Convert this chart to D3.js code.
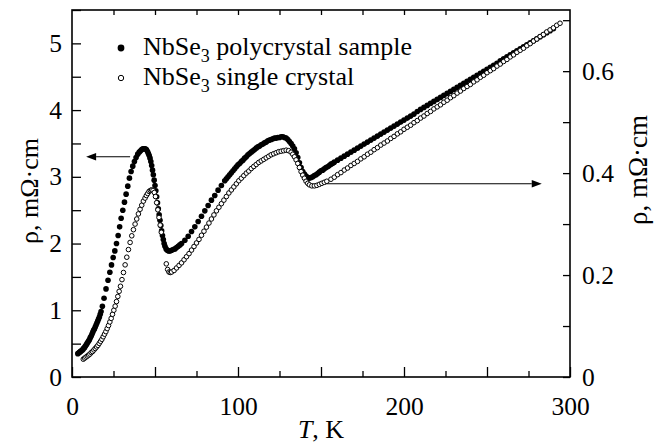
<!DOCTYPE html>
<html>
<head>
<meta charset="utf-8">
<script src="https://cdn.jsdelivr.net/npm/d3@7/dist/d3.min.js"></script>
<style>
  html, body { margin: 0; padding: 0; background: #fff; }
  svg { display: block; }
  text { font-family: "Liberation Serif", "Times New Roman", serif; fill: #000; }
</style>
</head>
<body>
<svg id="chart" width="661" height="446"></svg>
<script>
// NbSe3 resistivity vs temperature
// polycrystal sample (left axis, mΩ·cm)
const polyT = [
  3.5,4,4.5,5,5.5,6,6.5,7,7.5,8,8.5,9,9.5,10,10.5,11,11.5,12,12.5,13,13.5,14,14.5,15,15.5,16,16.5,17,17.5,
  18.3,19.3,20.5,21.7,22.8,23.8,24.8,25.8,26.8,27.8,28.7,29.6,30.6,31.6,32.6,33.6,34.6,35.6,36.6,37.6,38.6,39.6,40.5,41.3,
  42,42.7,43.4,44.1,44.8,45.5,46,46.5,47,47.5,48,48.5,49,49.5,50,50.5,51,51.5,52,52.5,53,53.5,54,54.5,55,55.5,56,56.7,57.4,58.2,
  59,60,61,62,63,64,65,66,68,70,72,74,76,78,80,82,84,86,88,90,
  92,93,94,95,96,97,98,99,100,101,102,103,104,105,106,107,108,109,110,111,112,113,114,115,116,117,118,119,120,
  121,122,123,124,125,126,127,128,129,130,131,132,133,134,135,136,137,138,139,140,141,142,143,144,145,146,147,148,149,150,
  151,152,153,154,155,156,157,158,
  160,162,164,166,168,170,172,174,176,178,180,182,184,186,188,190,192,194,196,198,200,202,204,206,208,210,
  212,214,216,218,220,222,224,226,228,230,232,234,236,238,240,242,244,246,248,250,252,254,256,258,260,
  262,264,266,268,270,272,274,276,278,280,282,284,286,288,290
];
const polyRho = [
  0.35,0.36,0.37,0.38,0.39,0.40,0.41,0.43,0.44,0.46,0.48,0.50,0.52,0.54,0.56,0.59,0.61,0.64,0.67,0.70,0.72,0.75,0.78,0.81,0.84,0.87,0.90,0.94,0.98,
  1.06,1.18,1.32,1.45,1.57,1.68,1.79,1.89,2.00,2.12,2.25,2.38,2.50,2.62,2.74,2.86,2.98,3.08,3.16,3.23,3.29,3.34,3.37,3.39,
  3.41,3.42,3.42,3.42,3.41,3.38,3.35,3.32,3.28,3.23,3.17,3.10,3.03,2.95,2.87,2.79,2.70,2.61,2.52,2.43,2.35,2.27,2.19,2.12,2.06,2.00,1.96,1.92,1.90,1.89,
  1.89,1.90,1.91,1.92,1.94,1.96,1.98,2.00,2.05,2.11,2.18,2.25,2.33,2.41,2.49,2.57,2.65,2.72,2.80,2.87,
  2.94,2.97,3.00,3.03,3.06,3.09,3.12,3.15,3.18,3.20,3.23,3.25,3.28,3.30,3.33,3.35,3.37,3.39,3.41,3.43,3.45,3.46,3.48,3.49,3.51,3.52,3.54,3.55,3.56,
  3.57,3.58,3.58,3.59,3.59,3.60,3.60,3.59,3.58,3.56,3.53,3.50,3.46,3.42,3.36,3.29,3.21,3.14,3.08,3.04,3.01,2.99,2.98,2.99,3.00,3.02,3.03,3.05,3.07,3.09,
  3.10,3.12,3.14,3.15,3.17,3.19,3.20,3.22,
  3.25,3.28,3.31,3.34,3.37,3.40,3.43,3.46,3.49,3.52,3.55,3.58,3.61,3.64,3.67,3.70,3.73,3.76,3.79,3.82,3.85,3.88,3.91,3.94,3.98,4.01,
  4.04,4.07,4.10,4.13,4.16,4.19,4.22,4.25,4.28,4.31,4.34,4.37,4.40,4.43,4.46,4.49,4.52,4.55,4.58,4.61,4.64,4.67,4.70,4.74,4.77,
  4.80,4.83,4.86,4.89,4.92,4.95,4.98,5.01,5.04,5.07,5.10,5.13,5.16,5.19,5.22
];

// single crystal (right axis, mΩ·cm)
const crystT = [
  6.8,7.6,8.4,9.2,10,10.8,11.6,12.4,13.2,14,14.8,15.6,16.4,17.2,18,18.8,19.6,20.4,21.2,22,22.8,23.6,24.4,25.2,26,26.8,27.6,28.4,
  29.2,30.1,31,32,33,34,35,36,37,38,39,40,41,42,43,44,44.8,45.6,46.4,47.2,48,48.8,
  49.6,50.3,51,51.7,52.4,53.1,53.8,
  56.8,57.6,58.4,59.2,60,61.5,63,64.5,66,67.5,69,70.5,72,73.5,75,76.5,78,79.5,81,82.5,84,85.5,87,88.5,90,
  91.5,93,94.5,96,97.5,99,100.5,102,103.5,105,106.5,108,109.5,111,112.5,114,115.5,117,118.5,120,121.5,123,124.5,126,127.5,129,
  130.5,132,133,134,135,136,137,138,139,140,141,142,143,144.5,146,147.5,149,150.5,152,153.5,
  156,158,160,162,164,166,168,170,172,174,176,178,180,182,184,186,188,190,192,194,196,198,200,202,204,206,208,210,
  212,214,216,218,220,222,224,226,228,230,232,234,236,238,240,242,244,246,248,250,252,254,256,258,260,
  262,264,266,268,270,272,274,276,278,280,282,284,286,288,290,292,294
];
const crystRho = [
  0.035,0.037,0.039,0.041,0.043,0.045,0.048,0.050,0.053,0.056,0.059,0.062,0.066,0.070,0.074,0.079,0.084,0.089,0.095,0.101,0.108,0.115,0.123,0.131,0.139,0.148,0.158,0.168,
  0.178,0.191,0.205,0.220,0.235,0.250,0.264,0.277,0.289,0.300,0.310,0.320,0.329,0.337,0.345,0.351,0.356,0.360,0.364,0.366,0.367,0.366,
  0.362,0.354,0.342,0.328,0.313,0.298,0.284,
  0.222,0.211,0.206,0.205,0.206,0.209,0.214,0.219,0.224,0.230,0.236,0.242,0.249,0.256,0.263,0.270,0.278,0.286,0.294,0.302,0.310,0.318,0.326,0.333,0.340,
  0.347,0.354,0.361,0.367,0.373,0.379,0.385,0.390,0.395,0.400,0.404,0.409,0.413,0.417,0.421,0.424,0.427,0.430,0.433,0.436,0.438,0.440,0.442,0.443,0.444,0.445,
  0.444,0.441,0.437,0.432,0.426,0.419,0.411,0.403,0.396,0.390,0.384,0.380,0.377,0.375,0.375,0.376,0.378,0.380,0.382,0.384,
  0.388,0.392,0.397,0.401,0.406,0.410,0.415,0.419,0.423,0.428,0.432,0.437,0.441,0.446,0.450,0.455,0.459,0.463,0.468,0.472,0.477,0.481,0.486,0.490,0.494,0.499,0.503,0.508,
  0.512,0.517,0.521,0.526,0.530,0.534,0.539,0.543,0.548,0.552,0.557,0.561,0.566,0.570,0.574,0.579,0.583,0.588,0.592,0.597,0.601,0.605,0.610,0.614,0.619,
  0.623,0.628,0.632,0.637,0.641,0.645,0.650,0.654,0.659,0.663,0.668,0.672,0.677,0.681,0.685,0.690,0.694
];

const xTicks = [0, 100, 200, 300];
const leftTicks = [0, 1, 2, 3, 4, 5];
const rightTicks = [0, 0.2, 0.4, 0.6];
const legendLabels = [" polycrystal sample", " single crystal"];

const svg = d3.select("#chart");
const m = { left: 72, right: 570, top: 10, bottom: 377 };
const tickFont = "25.5px";

const x = d3.scaleLinear().domain([0, 300]).range([m.left, m.right]);
const yL = d3.scaleLinear().domain([0, 5.5]).range([m.bottom, m.top]);
const yR = d3.scaleLinear().domain([0, 0.72]).range([m.bottom, m.top]);

const fmtX = d => xTicks.includes(d) ? String(d) : "";
const fmtL = d => leftTicks.includes(d) ? String(d) : "";
const fmtR = d => rightTicks.some(v => Math.abs(v - d) < 1e-9) ? (d === 0 ? "0" : d3.format(".1f")(d)) : "";

function styleAxis(g) {
  g.select(".domain").remove();
  g.selectAll(".tick line").attr("stroke", "#000").attr("stroke-width", 1.3);
  g.selectAll(".tick text").style("font-size", tickFont).attr("fill", "#000");
}

// bottom: long ticks each 50 K, short ticks between
svg.append("g").attr("transform", `translate(0,${m.bottom})`)
  .call(d3.axisBottom(x).tickValues(d3.range(0, 301, 50)).tickSize(-10).tickPadding(20).tickFormat(fmtX))
  .call(styleAxis);
svg.append("g").attr("transform", `translate(0,${m.bottom})`)
  .call(d3.axisBottom(x).tickValues(d3.range(25, 300, 50)).tickSize(-6).tickFormat(""))
  .call(styleAxis);
// top
svg.append("g").attr("transform", `translate(0,${m.top})`)
  .call(d3.axisTop(x).tickValues(d3.range(25, 300, 25)).tickSize(-5).tickFormat(""))
  .call(styleAxis);
// left
svg.append("g").attr("transform", `translate(${m.left},0)`)
  .call(d3.axisLeft(yL).tickValues(d3.range(0, 5.51, 0.5)).tickSize(-9).tickPadding(10).tickFormat(fmtL))
  .call(styleAxis);
// right
svg.append("g").attr("transform", `translate(${m.right},0)`)
  .call(d3.axisRight(yR).tickValues(d3.range(0, 8).map(i => i / 10)).tickSize(-7).tickPadding(12).tickFormat(fmtR))
  .call(styleAxis);

// frame
svg.append("rect")
  .attr("x", m.left).attr("y", m.top)
  .attr("width", m.right - m.left).attr("height", m.bottom - m.top)
  .attr("fill", "none").attr("stroke", "#000").attr("stroke-width", 1.6);

// axis titles
svg.append("text").attr("x", x(150)).attr("y", 438).attr("text-anchor", "middle")
  .style("font-size", "26px")
  .call(t => {
    t.append("tspan").style("font-style", "italic").text("T");
    t.append("tspan").text(", K");
  });
svg.append("text").attr("transform", `translate(38,191) rotate(-90)`)
  .attr("text-anchor", "middle").style("font-size", "26px").text("ρ, mΩ·cm");
svg.append("text").attr("transform", `translate(647,170) rotate(-90)`)
  .attr("text-anchor", "middle").style("font-size", "27px").text("ρ, mΩ·cm");

// arrows pointing to each series' axis
const arrowSpecs = [
  { from: [x(35), yL(3.3)], to: [x(8.5), yL(3.3)] },
  { from: [x(152.5), yR(0.379)], to: [x(283), yR(0.379)] }
];
arrowSpecs.forEach(a => {
  const dir = Math.sign(a.to[0] - a.from[0]);
  const headLen = 10, headW = 3.8;
  svg.append("line")
    .attr("x1", a.from[0]).attr("y1", a.from[1])
    .attr("x2", a.to[0] - dir * headLen).attr("y2", a.to[1])
    .attr("stroke", "#000").attr("stroke-width", 1.1);
  svg.append("path")
    .attr("d", `M${a.to[0]},${a.to[1]} L${a.to[0] - dir * headLen},${a.to[1] - headW} L${a.to[0] - dir * headLen},${a.to[1] + headW} Z`)
    .attr("fill", "#000");
});

// data
const poly = polyT.map((t, i) => ({ t, r: polyRho[i] }));
const crys = crystT.map((t, i) => ({ t, r: crystRho[i] }));

svg.append("g").selectAll("circle").data(poly).join("circle")
  .attr("cx", d => x(d.t)).attr("cy", d => yL(d.r)).attr("r", 2.8)
  .attr("fill", "#000");

svg.append("g").selectAll("circle").data(crys).join("circle")
  .attr("cx", d => x(d.t)).attr("cy", d => yR(d.r)).attr("r", 2.3)
  .attr("fill", "#fff").attr("stroke", "#000").attr("stroke-width", 1);

// legend
const legend = svg.append("g");
[0, 1].forEach(i => {
  const yy = 55 + i * 30;
  if (i === 0) {
    legend.append("circle").attr("cx", 121).attr("cy", yy - 7).attr("r", 3.4).attr("fill", "#000");
  } else {
    legend.append("circle").attr("cx", 121).attr("cy", yy - 7).attr("r", 2.7)
      .attr("fill", "#fff").attr("stroke", "#000").attr("stroke-width", 1);
  }
  const t = legend.append("text").attr("x", 143).attr("y", yy).style("font-size", "26px");
  t.append("tspan").text("NbSe");
  t.append("tspan").attr("dy", 7).style("font-size", "18px").text("3");
  t.append("tspan").attr("dy", -7).text(legendLabels[i]);
});
</script>
</body>
</html>
